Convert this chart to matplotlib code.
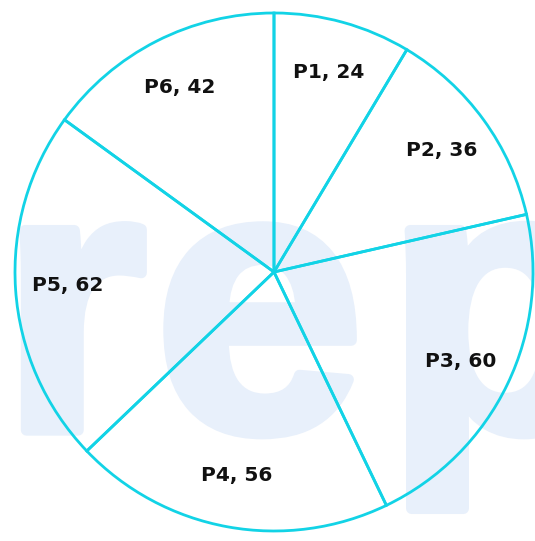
import matplotlib
matplotlib.use("Agg")
import matplotlib.pyplot as plt
import matplotlib.patheffects as pe

categories = ["P1", "P2", "P3", "P4", "P5", "P6"]
values = [24, 36, 60, 56, 62, 42]
labels = [f"{c}, {v}" for c, v in zip(categories, values)]

line_color = "#12d3e6"
watermark_color = "#e8f0fb"

fig = plt.figure(figsize=(5.35, 5.41), dpi=100)
fig.patch.set_facecolor("white")

# faint watermark behind the chart (letters spaced like the reference)
for ch, xf in [("r", 0.0), ("e", 0.288), ("p", 0.72)]:
    wm = fig.text(xf, 0.205, ch, fontsize=272, fontweight="bold",
                  family="Liberation Sans", color=watermark_color,
                  ha="left", va="baseline", zorder=-5)
    wm.set_path_effects([pe.withStroke(linewidth=8, foreground=watermark_color)])

ax = fig.add_axes([15 / 535, 10 / 541, 518 / 535, 518 / 541])
ax.set_facecolor("none")
wedges, texts = ax.pie(values, labels=labels, startangle=90, counterclock=False,
                       labeldistance=0.8,
                       wedgeprops=dict(facecolor="none", edgecolor=line_color, linewidth=2.0),
                       textprops=dict(fontsize=14.5, fontweight="bold", family="DejaVu Sans", color="#111111"))
for t in texts:
    t.set_ha("center")
    t.set_va("center")
ax.set_xlim(-1, 1)
ax.set_ylim(-1, 1)
ax.set_aspect("equal")
ax.axis("off")

fig.savefig("out.png", dpi=100, facecolor="white")
